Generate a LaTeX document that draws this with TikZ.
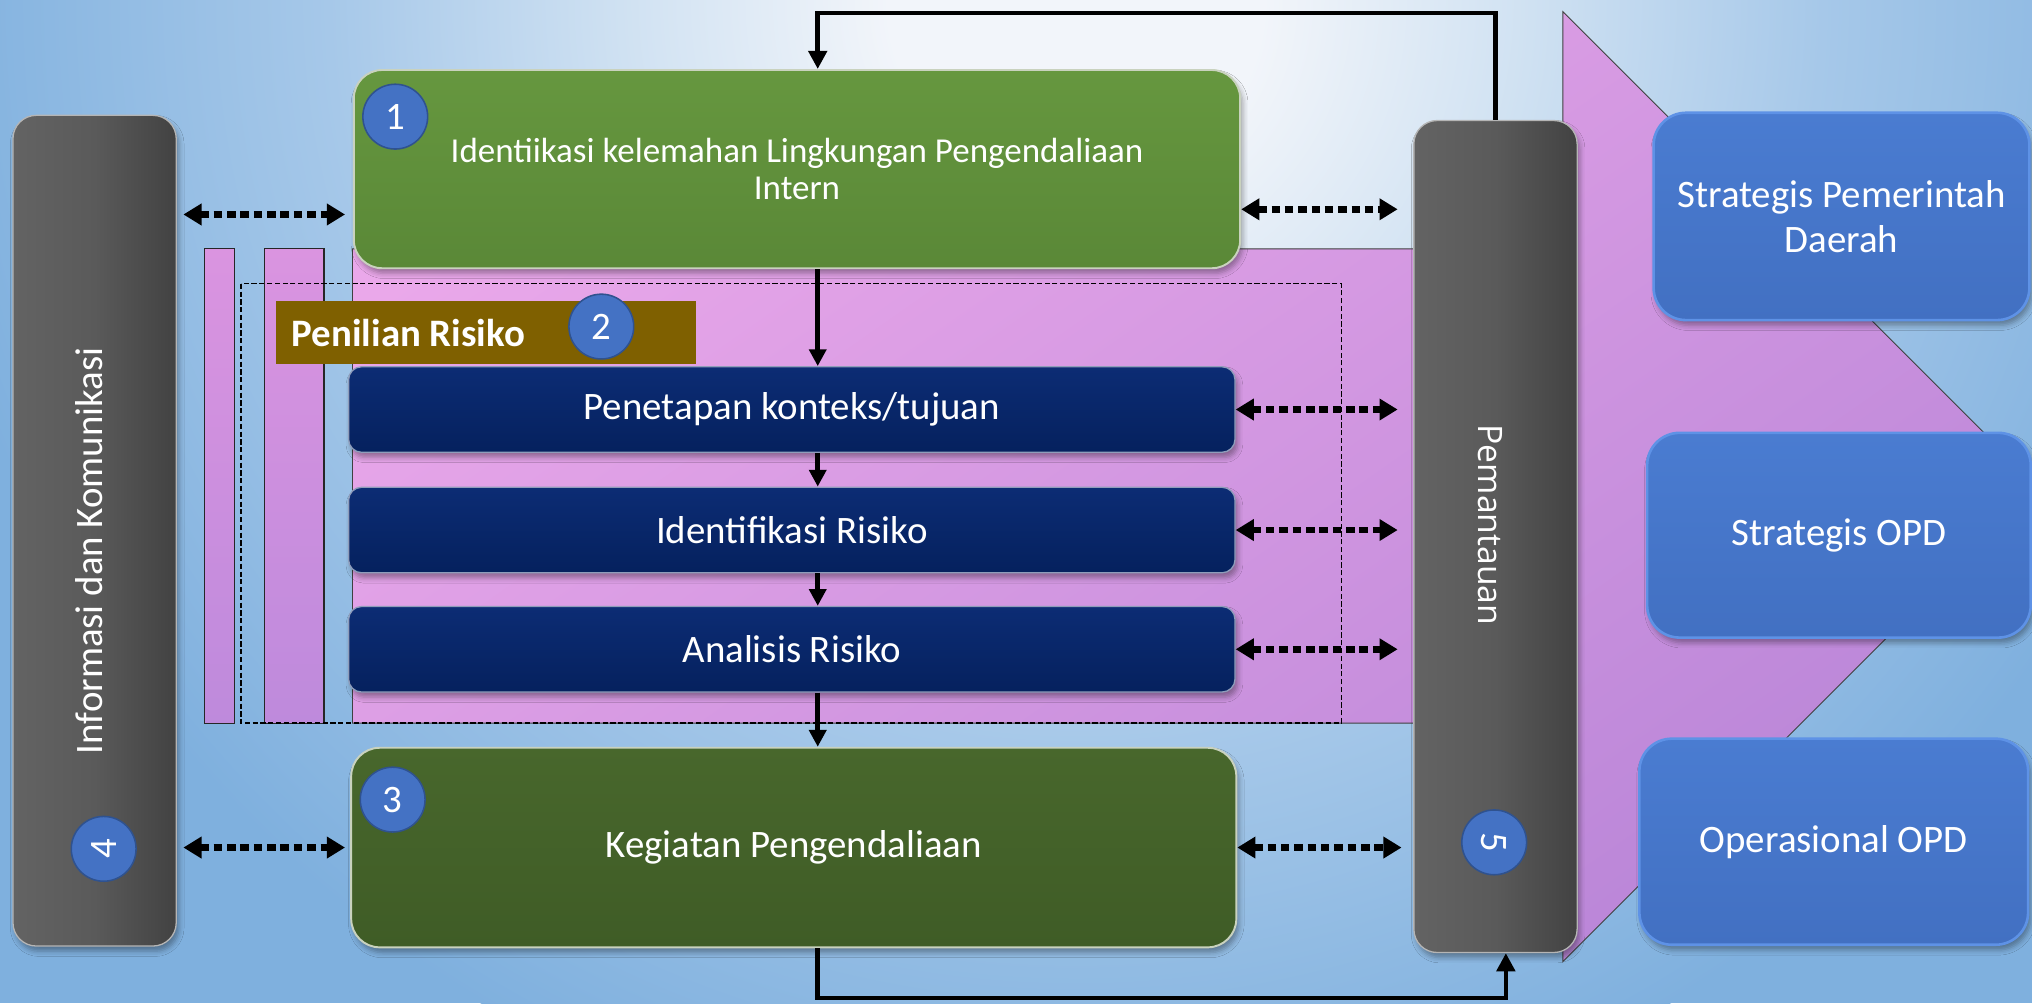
\documentclass[tikz,border=0pt]{standalone}
\usepackage{fontspec}
\setmainfont{Carlito}
\newfontfamily\pemfont{Open Sans}
\usetikzlibrary{arrows.meta,shadows.blur,calc}

\definecolor{bgW}{HTML}{F2F5FA}
\definecolor{bgL}{HTML}{D4E4F3}
\definecolor{bgM}{HTML}{A6C8E9}
\definecolor{bgB}{HTML}{7FB0DE}
\definecolor{pinkA}{HTML}{EAA8EA}
\definecolor{pinkB}{HTML}{BA86D8}
\definecolor{sliceA}{HTML}{DA94E0}
\definecolor{sliceB}{HTML}{BE8ADC}
\definecolor{grnTop}{HTML}{66973F}
\definecolor{grnBot}{HTML}{5A8837}
\definecolor{dgrTop}{HTML}{48672C}
\definecolor{dgrBot}{HTML}{3F5C26}
\definecolor{rimG}{HTML}{C9D2BE}
\definecolor{navyTop}{HTML}{0C2C74}
\definecolor{navyBot}{HTML}{05215E}
\definecolor{rimN}{HTML}{8F9DBB}
\definecolor{barL}{HTML}{636363}
\definecolor{barM}{HTML}{5A5A5A}
\definecolor{barR}{HTML}{424242}
\definecolor{rimB}{HTML}{B5B5B5}
\definecolor{badge}{HTML}{4472C4}
\definecolor{badgeE}{HTML}{2F528F}
\definecolor{brownL}{HTML}{7F6000}
\definecolor{goalTop}{HTML}{4A7CD1}
\definecolor{goalBot}{HTML}{4270C2}
\definecolor{goalRim}{HTML}{5E92E6}

% radial glow: the path is fitted to the central 50bp square, so 25bp is its rim
\pgfdeclareradialshading{bgglow}{\pgfpoint{0bp}{0bp}}{color(0bp)=(bgW); color(4bp)=(bgW); color(9bp)=(bgL); color(16bp)=(bgM); color(25bp)=(bgB); color(50bp)=(bgB)}

\newcommand\boxfont{\fontsize{30}{35}\selectfont}
\newcommand\introfont{\fontsize{27}{28}\selectfont}

\tikzset{
  softshadow/.style={blur shadow={shadow xshift=2pt,shadow yshift=-4pt,shadow opacity=35,shadow blur radius=4pt}},
  bar/.style={rounded corners=18pt, left color=barL, right color=barR, middle color=barM,
    draw=rimB, line width=1pt, minimum width=126pt, inner sep=0pt, softshadow},
  greenbox/.style={rounded corners=22pt, draw=rimG, line width=1.5pt, inner sep=0pt,
    text=white, softshadow},
  navybox/.style={rounded corners=10pt, top color=navyTop, bottom color=navyBot, draw=rimN,
    line width=1pt, minimum width=684pt, minimum height=66pt, inner sep=0pt,
    text=white, font=\boxfont, softshadow},
  goalbox/.style={rounded corners=25pt, top color=goalTop, bottom color=goalBot, draw=goalRim,
    line width=2pt, inner sep=0pt, text=white, font=\boxfont, align=center, softshadow},
  badgenode/.style={circle, minimum size=50pt, inner sep=0pt, fill=badge, draw=badgeE,
    line width=1.2pt, text=white, font=\boxfont},
  flow/.style={line width=4pt, -{Triangle[length=13pt,width=13pt]}},
  loopline/.style={line width=3.5pt, -{Triangle[length=14pt,width=14pt]}},
  dotarrow/.style={line width=5pt, dash pattern=on 6.5pt off 3.8pt,
    {Triangle[length=14pt,width=16pt]}-{Triangle[length=14pt,width=16pt]}}
}

\begin{document}
\begin{tikzpicture}[x=1pt,y=-1pt]
\useasboundingbox (0,0) rectangle (1568,774);

% backdrop: blue field with a pale glow near the top
\fill[bgB] (0,0) rectangle (1568,774);
\begin{scope}
  \clip (0,0) rectangle (1568,774);
  \shade[shading=bgglow] (830,0) circle[radius=900pt];
\end{scope}

% large pink block arrow running towards the objectives
\path[draw=black!75, line width=0.7pt, top color=pinkA, bottom color=pinkB, shading angle=35]
  (272,192) -- (1206,192) -- (1206,9) -- (1572.5,375.5) -- (1206,742) -- (1206,558)
  -- (272,558) -- cycle;

% two narrow slices on the left
\path[draw=black!85, line width=0.8pt, top color=sliceA, bottom color=sliceB] (158,192) rectangle (181,558);
\path[draw=black!85, line width=0.8pt, top color=sliceA, bottom color=sliceB] (204,192) rectangle (250,558);

% dashed frame of the risk assessment group
\draw[line width=1pt, dash pattern=on 4pt off 2pt] (186,219) rectangle (1035,558);

% group title
\node[fill=brownL, minimum width=324pt, minimum height=49pt, inner sep=0pt] (lbl) at (375,256.5) {};
\node[anchor=west, inner sep=0pt, text=white, font=\bfseries\boxfont] (lbltext) at (225,257) {Penilian Risiko};
\node[badgenode] (c2) at (464,252) {2};

% risk assessment steps
\node[navybox] (b1) at (611,316) {Penetapan konteks/tujuan};
\node[navybox] (b2) at (611,409) {Identifikasi Risiko};
\node[navybox] (b3) at (611,501) {Analisis Risiko};

% control environment and control activities
\node[greenbox, top color=grnTop, bottom color=grnBot, minimum width=684pt, minimum height=153pt,
      font=\introfont, align=center] (g1) at (615,130.5)
      {Identiikasi kelemahan Lingkungan Pengendaliaan\\Intern};
\node[greenbox, top color=dgrTop, bottom color=dgrBot, minimum width=683pt, minimum height=154pt,
      font=\boxfont] (g3) at (612.5,654) {Kegiatan Pengendaliaan};
\node[badgenode] (c1) at (305,90) {1};
\node[badgenode] (c3) at (303,617) {3};

% side pillars
\node[bar, minimum height=641pt] (info) at (73,409.5) {};
\node[rotate=90, text=white, font=\boxfont] (infolbl) at (69,425) {Informasi dan Komunikasi};
\node[badgenode, rotate=90] (c4) at (80,655) {4};

\node[bar, minimum height=642pt] (pem) at (1154,414) {};
\node[rotate=-90, text=white, font=\pemfont\fontsize{26}{30}\selectfont] (pemlbl) at (1150,405) {Pemantauan};
\node[badgenode, rotate=-90] (c5) at (1153,650) {5};

% objectives
\node[goalbox, minimum width=290pt, minimum height=160pt] (r1) at (1421,167) {Strategis Pemerintah\\Daerah};
\node[goalbox, minimum width=296pt, minimum height=158pt] (r2) at (1419,413) {Strategis OPD};
\node[goalbox, minimum width=300pt, minimum height=159pt] (r3) at (1415,649.5) {Operasional OPD};

% main flow
\coordinate (ax) at (631,0);
\coordinate (bx) at (1162,0);
\coordinate (topy) at (0,10);
\coordinate (boty) at (0,770);
\draw[flow] (ax |- g1.south) -- (ax |- b1.north);
\draw[flow] (ax |- b1.south) -- (ax |- b2.north);
\draw[flow] (ax |- b2.south) -- (ax |- b3.north);
\draw[flow] (ax |- b3.south) -- (ax |- g3.north);

% monitoring feedback loops
\draw[loopline] (pem.north) -- (pem.north |- topy) -- (ax |- topy) -- (ax |- g1.north);
\draw[loopline] (ax |- g3.south) -- (ax |- boty) -- (bx |- boty) -- (bx |- pem.south);

% two-way links
\coordinate (g1l) at ([yshift=-35pt]g1.west);
\coordinate (g1r) at ([yshift=-31pt]g1.east);
\draw[dotarrow, shorten <=5pt, shorten >=6pt] (g1l -| info.east) -- (g1l);
\draw[dotarrow, shorten <=5pt, shorten >=4pt] (g3.west -| info.east) -- (g3.west);
\draw[dotarrow, shorten >=12pt] (g1r) -- (g1r -| pem.west);
\draw[dotarrow, shorten >=12pt] (b1.east) -- (b1.east -| pem.west);
\draw[dotarrow, shorten >=12pt] (b2.east) -- (b2.east -| pem.west);
\draw[dotarrow, shorten >=12pt] (b3.east) -- (b3.east -| pem.west);
\draw[dotarrow, shorten >=9pt] (g3.east) -- (g3.east -| pem.west);
\end{tikzpicture}
\end{document}
